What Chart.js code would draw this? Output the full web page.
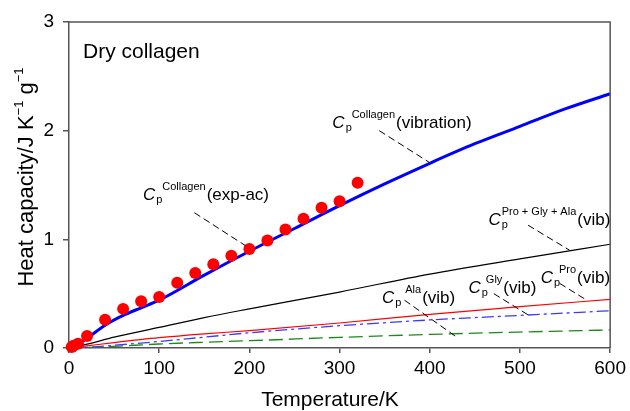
<!DOCTYPE html>
<html>
<head>
<meta charset="utf-8">
<title>Dry collagen heat capacity</title>
<script src="https://cdn.jsdelivr.net/npm/chart.js@4.4.1/dist/chart.umd.min.js"></script>
<style>
  html, body { margin: 0; padding: 0; background: #fff; }
  #wrap { width: 630px; height: 411px; }
</style>
</head>
<body>
<div id="wrap"><canvas id="chart" width="630" height="411"></canvas></div>
<script>
// values
const expTemps = [3, 5, 10, 20, 40, 60, 80, 100, 120, 140, 160, 180, 200, 220, 240, 260, 280, 300, 320];
const expCp    = [0.01, 0.02, 0.04, 0.11, 0.26, 0.36, 0.43, 0.47, 0.60, 0.69, 0.77, 0.85, 0.91, 0.99, 1.09, 1.19, 1.29, 1.35, 1.52];

const vibTemps = [0, 10, 20, 40, 60, 80, 100, 150, 200, 250, 300, 350, 400, 450, 500, 550, 600];
const vibCp    = [0, 0.035, 0.09, 0.21, 0.30, 0.37, 0.44, 0.67, 0.89, 1.10, 1.31, 1.51, 1.70, 1.88, 2.04, 2.20, 2.34];

const aaTemps = [0, 20, 50, 100, 150, 200, 300, 400, 500, 600];
const sumCp   = [0, 0.035, 0.10, 0.19, 0.28, 0.36, 0.515, 0.68, 0.82, 0.955];
const proCp   = [0, 0.02, 0.05, 0.095, 0.13, 0.16, 0.23, 0.31, 0.38, 0.448];
const glyCp   = [0, 0.005, 0.025, 0.06, 0.10, 0.14, 0.205, 0.258, 0.30, 0.343];
const alaCp   = [0, 0.004, 0.015, 0.037, 0.053, 0.067, 0.098, 0.125, 0.147, 0.166];

const xTicks = [0, 100, 200, 300, 400, 500, 600];
const yTicks = [0, 1, 2, 3];

const FONT = '"Liberation Sans", Arial, Helvetica, sans-serif';

// curve labels, placed in data units
const curveLabels = [
    { t: 292, v: 2.02, sup: 'Collagen', text: '(vibration)', gap: 7 },
    { t: 82, v: 1.36, sup: 'Collagen', text: '(exp-ac)', gap: 7 },
    { t: 465, v: 1.13, sup: 'Pro + Gly + Ala', text: '(vib)', gap: 1 },
    { t: 347, v: 0.414, sup: 'Ala', text: '(vib)', gap: 11 },
    { t: 443, v: 0.506, sup: 'Gly', text: '(vib)', gap: 5 },
    { t: 523, v: 0.598, sup: 'Pro', text: '(vib)', gap: 6 }
];
const leaders = [
    [344, 2.0, 401, 1.70],
    [139, 1.245, 196, 0.94],
    [509, 1.13, 555, 0.90],
    [372, 0.44, 429, 0.105],
    [471, 0.50, 509, 0.305],
    [544, 0.595, 574, 0.44]
];

function pts(xs, ys) {
    return xs.map((x, i) => ({ x: x, y: ys[i] }));
}

const annotate = {
    id: 'annotate',
    afterDraw(chart) {
        const ctx = chart.ctx;
        const xs = chart.scales.x, ys = chart.scales.y;
        const a = chart.chartArea;
        ctx.save();

        // top and right frame
        ctx.strokeStyle = '#555';
        ctx.lineWidth = 1.5;
        ctx.beginPath();
        ctx.moveTo(a.left, a.top);
        ctx.lineTo(a.right, a.top);
        ctx.lineTo(a.right, a.bottom);
        ctx.stroke();

        // leader lines
        ctx.strokeStyle = '#000';
        ctx.lineWidth = 1;
        ctx.setLineDash([7, 4]);
        leaders.forEach(l => {
            ctx.beginPath();
            ctx.moveTo(xs.getPixelForValue(l[0]), ys.getPixelForValue(l[1]));
            ctx.lineTo(xs.getPixelForValue(l[2]), ys.getPixelForValue(l[3]));
            ctx.stroke();
        });
        ctx.setLineDash([]);

        ctx.fillStyle = '#000';
        ctx.textBaseline = 'alphabetic';
        ctx.textAlign = 'left';

        ctx.font = '21px ' + FONT;
        ctx.fillText('Dry collagen', 83, 58);

        curveLabels.forEach(l => {
            const x = xs.getPixelForValue(l.t);
            const y = ys.getPixelForValue(l.v);
            ctx.font = 'italic 17px ' + FONT;
            ctx.fillText('C', x, y);
            const cw = ctx.measureText('C').width;
            ctx.font = '11px ' + FONT;
            ctx.fillText('p', x + cw + 1, y + 3);
            const sx = x + cw + l.gap;
            ctx.fillText(l.sup, sx, y - 10);
            const sw = ctx.measureText(l.sup).width;
            ctx.font = '17px ' + FONT;
            ctx.fillText(l.text, sx + sw + 1, y);
        });

        // x title
        ctx.font = '21px ' + FONT;
        ctx.textAlign = 'center';
        ctx.fillText('Temperature/K', 330, 406);

        // y title with superscripts
        ctx.translate(33, 177);
        ctx.rotate(-Math.PI / 2);
        ctx.textAlign = 'left';
        const parts = [
            ['Heat capacity/J K', 22, 0],
            ['\u22121', 13, -10],
            [' g', 22, 0],
            ['\u22121', 13, -10]
        ];
        let total = 0;
        parts.forEach(p => { ctx.font = p[1] + 'px ' + FONT; total += ctx.measureText(p[0]).width; });
        let cx = -total / 2;
        parts.forEach(p => {
            ctx.font = p[1] + 'px ' + FONT;
            ctx.fillText(p[0], cx, p[2]);
            cx += ctx.measureText(p[0]).width;
        });
        ctx.restore();
    }
};

const lineBase = { showLine: true, pointRadius: 0, fill: false, cubicInterpolationMode: 'monotone', clip: 4 };

new Chart(document.getElementById('chart'), {
    type: 'scatter',
    data: {
        datasets: [
            {
                label: 'exp-ac',
                data: pts(expTemps, expCp),
                pointRadius: 6,
                pointBackgroundColor: '#ff0000',
                pointBorderColor: '#ff0000',
                pointBorderWidth: 0,
                clip: false
            },
            Object.assign({}, lineBase, {
                label: 'vibration',
                data: pts(vibTemps, vibCp),
                borderColor: '#0000ff',
                borderWidth: 3
            }),
            Object.assign({}, lineBase, {
                label: 'Pro+Gly+Ala',
                data: pts(aaTemps, sumCp),
                borderColor: '#000000',
                borderWidth: 1.2
            }),
            Object.assign({}, lineBase, {
                label: 'Pro',
                data: pts(aaTemps, proCp),
                borderColor: '#ff0000',
                borderWidth: 1.2
            }),
            Object.assign({}, lineBase, {
                label: 'Gly',
                data: pts(aaTemps, glyCp),
                borderColor: '#3a3aff',
                borderWidth: 1.3,
                borderDash: [12, 4, 3, 4]
            }),
            Object.assign({}, lineBase, {
                label: 'Ala',
                data: pts(aaTemps, alaCp),
                borderColor: '#1b8a1b',
                borderWidth: 1.3,
                borderDash: [14, 6]
            })
        ]
    },
    options: {
        responsive: false,
        animation: false,
        layout: { padding: { top: 22, right: 18, left: 0, bottom: 0 } },
        plugins: { legend: { display: false }, tooltip: { enabled: false } },
        scales: {
            x: {
                type: 'linear',
                min: 0,
                max: 600,
                afterFit: s => { s.height = 63; },
                afterBuildTicks: s => { s.ticks = xTicks.map(v => ({ value: v })); },
                grid: { drawOnChartArea: false, tickLength: 5, color: '#555', lineWidth: 1.5 },
                border: { color: '#555', width: 1.5 },
                ticks: { color: '#000', padding: 4, font: { family: FONT, size: 19 } }
            },
            y: {
                type: 'linear',
                min: 0,
                max: 3,
                afterFit: s => { s.width = 69; },
                afterBuildTicks: s => { s.ticks = yTicks.map(v => ({ value: v })); },
                grid: { drawOnChartArea: false, tickLength: 6, color: '#555', lineWidth: 1.5 },
                border: { color: '#555', width: 1.5 },
                ticks: { color: '#000', padding: 9, font: { family: FONT, size: 19 } }
            }
        }
    },
    plugins: [annotate]
});
</script>
</body>
</html>
